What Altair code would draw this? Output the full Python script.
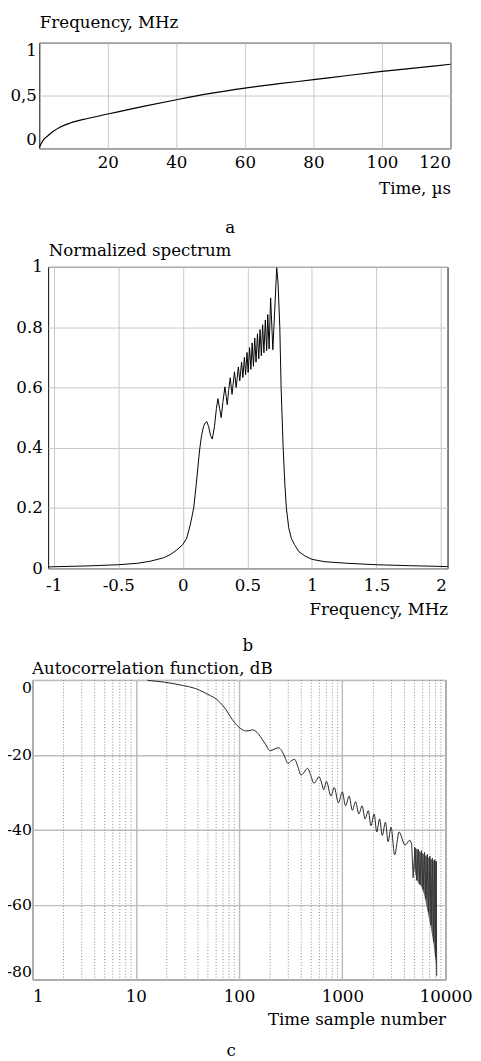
import altair as alt
import pandas as pd

FONT = "DejaVu Serif"
FS = 17

# ---------------- panel a : frequency law ----------------
time_us = [0, 0.3, 1.3, 2.5, 4.2, 6, 9, 14, 20, 30, 40, 50, 60, 70, 80, 90, 100, 110, 120]
freq_mhz = [0.01, 0.03, 0.085, 0.12, 0.164, 0.20, 0.24, 0.283, 0.325, 0.395, 0.46, 0.52,
            0.57, 0.612, 0.65, 0.69, 0.728, 0.762, 0.796]
a_xticks = [20, 40, 60, 80, 100, 120]
a_yticks = [0, 0.5, 1]

# ---------------- panel b : normalized spectrum ----------------
spec_f = [-1.04, -0.75, -0.5, -0.35, -0.25, -0.15, -0.1, -0.05, 0.0, 0.03, 0.055, 0.07,
          0.084, 0.097, 0.109, 0.12, 0.132, 0.145, 0.16, 0.172, 0.185, 0.20, 0.215, 0.228,
          0.245, 0.26, 0.272, 0.285, 0.297, 0.31, 0.326, 0.336, 0.344, 0.355, 0.367, 0.381,
          0.400, 0.413, 0.430, 0.441, 0.455, 0.465, 0.477, 0.486, 0.497, 0.506, 0.517, 0.527,
          0.537, 0.547, 0.557, 0.567, 0.578, 0.588, 0.598, 0.608, 0.618, 0.628, 0.639, 0.649,
          0.658, 0.668, 0.680, 0.697, 0.712, 0.727, 0.737, 0.751, 0.761, 0.777, 0.79, 0.802,
          0.82, 0.84, 0.863, 0.9, 0.95, 1.0, 1.1, 1.27, 1.5, 1.75, 2.05]
spec_v = [0.005, 0.008, 0.012, 0.017, 0.024, 0.035, 0.045, 0.06, 0.079, 0.10, 0.14, 0.17,
          0.20, 0.25, 0.30, 0.35, 0.40, 0.44, 0.47, 0.482, 0.487, 0.47, 0.44, 0.429,
          0.47, 0.53, 0.563, 0.53, 0.500, 0.55, 0.602, 0.57, 0.543, 0.59, 0.632, 0.577,
          0.652, 0.600, 0.668, 0.622, 0.684, 0.633, 0.700, 0.642, 0.716, 0.650, 0.732, 0.660,
          0.748, 0.670, 0.764, 0.684, 0.778, 0.695, 0.792, 0.705, 0.808, 0.715, 0.824, 0.722,
          0.842, 0.728, 0.897, 0.725, 0.86, 0.997, 0.95, 0.80, 0.60, 0.40, 0.28, 0.20,
          0.135, 0.10, 0.08, 0.055, 0.04, 0.03, 0.022, 0.017, 0.012, 0.009, 0.006]
b_xticks = [-1, -0.5, 0, 0.5, 1, 1.5, 2]
b_yticks = [0, 0.2, 0.4, 0.6, 0.8, 1]

# ---------------- panel c : autocorrelation ----------------
acf_n = [13, 19, 29, 38, 45, 53, 61, 68, 75, 82, 90, 97, 104, 116, 127, 135, 145, 155, 167,
         180, 200, 218, 240, 258, 275, 298, 320, 345, 370, 398, 428, 460, 495, 532, 562, 594,
         630, 661, 702, 776, 835, 917, 1000, 1075, 1164, 1251, 1346, 1446, 1555, 1660, 1786,
         1892, 2034, 2153, 2297, 2437, 2618, 2775, 2965, 3212, 3550, 4046, 4508, 4700]
acf_db = [-0.1, -0.6, -1.5, -2.3, -3.2, -4.2, -5.2, -6.5, -8.0, -9.7, -11.3, -12.3, -13.0,
          -13.6, -13.5, -13.3, -13.7, -14.5, -15.8, -17.1, -18.9, -18.5, -18.1, -18.8, -20.3,
          -22.3, -21.6, -21.2, -23.0, -25.4, -24.6, -23.6, -25.5, -27.6, -26.8, -25.8, -27.5,
          -29.3, -27.1, -31.0, -28.7, -32.8, -29.9, -33.6, -31.0, -34.8, -32.5, -35.8, -33.6,
          -37.1, -34.9, -38.9, -35.8, -40.6, -37.1, -41.5, -38.0, -43.2, -39.3, -46.7, -40.6,
          -44.1, -42.8, -44.0]
tail_n = [4700, 4850, 5050, 5250, 5450, 5650, 5850, 6050, 6250, 6450, 6650, 6850, 7050,
          7250, 7450, 7650, 7850, 8000, 8100, 8200]
tail_db = [-44.0, -52.8, -44.8, -53.5, -45.2, -54.5, -45.6, -56.0, -46.0, -58.5, -46.6,
           -62.0, -47.0, -65.5, -47.6, -70.0, -48.0, -74.0, -48.4, -79.0]
band_n = [4950, 5200, 5500, 5800, 6200, 6700, 7200, 7650, 8050, 8200]
band_hi = [-44.5, -45.0, -45.6, -46.0, -46.6, -47.3, -47.8, -48.2, -48.4, -48.6]
band_lo = [-50.0, -53.0, -54.5, -55.0, -57.3, -61.9, -66.2, -70.6, -75.8, -79.5]
c_xticks = [1, 10, 100, 1000, 10000]
c_minor = [2, 3, 4, 5, 6, 7, 8, 9, 20, 30, 40, 50, 60, 70, 80, 90, 200, 300, 400, 500,
           600, 700, 800, 900, 2000, 3000, 4000, 5000, 6000, 7000, 8000, 9000]
c_yticks = [0, -20, -40, -60, -80]

AX = dict(labelFont=FONT, labelFontSize=FS, labelColor="black", titleFont=FONT,
          titleFontSize=FS, titleFontWeight="normal", titleColor="black", domain=False,
          ticks=False, tickSize=0, grid=True, gridColor="#c8c8c8", gridWidth=1)


def spacer(w):
    return alt.Chart(pd.DataFrame({"s": [0]})).mark_point(size=1, opacity=0).encode(
        opacity=alt.value(0)
    ).properties(width=w, height=10, view=alt.ViewBackground(stroke="transparent"))


def bottom_title(txt, offset, dx):
    return alt.TitleParams(txt, orient="bottom", anchor="middle", frame="group", offset=offset,
                           dx=dx, font=FONT, fontSize=FS, fontWeight="normal", color="black")


# panel a
df_a = pd.DataFrame({"t": time_us, "f": freq_mhz})
chart_a = alt.Chart(df_a).mark_line(color="black", strokeWidth=1.2, interpolate="monotone").encode(
    x=alt.X("t:Q", scale=alt.Scale(domain=[0, 120], nice=False, zero=False),
            axis=alt.Axis(values=a_xticks, labelExpr="toString(datum.value)", labelFlush=True,
                          labelPadding=7, title="Time, µs", titleAnchor="end", titlePadding=10, **AX)),
    y=alt.Y("f:Q", scale=alt.Scale(domain=[0, 1], nice=False),
            axis=alt.Axis(values=a_yticks, labelExpr="replace(toString(datum.value), '.', ',')",
                          labelFlush=True, labelPadding=3, title="Frequency, MHz", titleAngle=0,
                          titleAlign="left", titleBaseline="alphabetic", titleX=0, titleY=-15, **AX)),
).properties(width=420, height=108, title=bottom_title("a", 24, -15))

# panel b
df_b = pd.DataFrame({"fr": spec_f, "v": spec_v})
chart_b = alt.Chart(df_b).mark_line(color="black", strokeWidth=1).encode(
    x=alt.X("fr:Q", scale=alt.Scale(domain=[-1.043, 2.05], nice=False, zero=False),
            axis=alt.Axis(values=b_xticks, labelExpr="toString(datum.value)", labelPadding=10,
                          title="Frequency, MHz", titleAnchor="end", titlePadding=8, **AX)),
    y=alt.Y("v:Q", scale=alt.Scale(domain=[0, 1], nice=False),
            axis=alt.Axis(values=b_yticks, labelExpr="toString(datum.value)", labelPadding=6,
                          title="Normalized spectrum", titleAngle=0, titleAlign="left",
                          titleBaseline="alphabetic", titleX=0, titleY=-12, **AX)),
).properties(width=408, height=308, title=bottom_title("b", 21, 0))

# panel c
df_c = pd.DataFrame({"n": acf_n, "db": acf_db})
df_tail = pd.DataFrame({"n": tail_n, "db": tail_db})
df_band = pd.DataFrame({"n": band_n, "db": band_hi, "lo": band_lo})
df_minor = pd.DataFrame({"n": c_minor})

cx = alt.X("n:Q", scale=alt.Scale(type="log", domain=[1, 10000], nice=False),
           axis=alt.Axis(values=c_xticks, labelExpr="toString(datum.value)", labelPadding=9,
                         labelAlign={"condition": {"test": "datum.value == 1", "value": "left"},
                                     "value": "center"},
                         title="Time sample number", titleAnchor="end", titlePadding=8,
                         **dict(AX, gridColor="#bdbdbd", gridWidth=1.5)))
cy = alt.Y("db:Q", scale=alt.Scale(domain=[-80, 0], nice=False, zero=False),
           axis=alt.Axis(values=c_yticks, labelExpr="toString(datum.value)", labelFlush=True,
                         title="Autocorrelation function, dB", titleAngle=0,
                         titleAlign="left", titleBaseline="alphabetic", titleX=-1, titleY=-7,
                         **dict(AX, gridColor="#bdbdbd", gridWidth=1.5, labelFontSize=16,
                                labelPadding=1)))

minor = alt.Chart(df_minor).mark_rule(color="#8a8a8a", strokeWidth=1, strokeDash=[1, 2]).encode(x=cx)
line_c = alt.Chart(df_c).mark_line(color="#222222", strokeWidth=1, interpolate="monotone").encode(x="n:Q", y=cy)
band_c = alt.Chart(df_band).mark_area(color="#555555", opacity=0.9).encode(x="n:Q", y="db:Q", y2="lo:Q")
tail_c = alt.Chart(df_tail).mark_line(color="#333333", strokeWidth=1).encode(x="n:Q", y="db:Q")

chart_c = alt.layer(minor, line_c, band_c, tail_c).properties(
    width=422, height=306, title=bottom_title("c", 16, -8))

row_a = alt.hconcat(spacer(5), chart_a, spacing=0)
row_b = alt.hconcat(spacer(11), chart_b, spacing=0)
row_c = alt.hconcat(spacer(1), chart_c, spacing=0)

chart = alt.vconcat(row_a, row_b, row_c, spacing=4).properties(
    padding={"left": -6, "top": -6, "right": 0, "bottom": 0}
).configure_view(stroke="black", strokeWidth=1)

chart.save("out.html", embed_options={"renderer": "svg", "actions": False})
